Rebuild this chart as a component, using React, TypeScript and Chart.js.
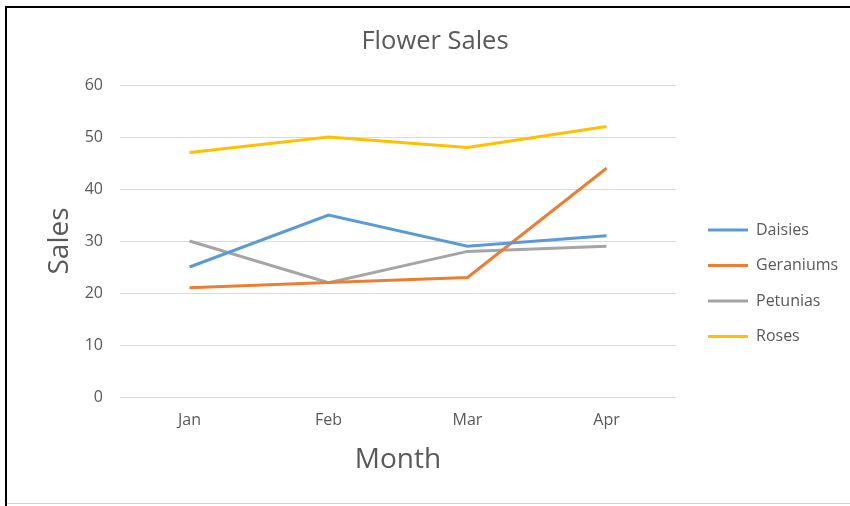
import React, { useEffect, useRef } from "react";
import { Chart, registerables } from "chart.js";

Chart.register(...registerables);

const months = ["Jan", "Feb", "Mar", "Apr"];
const daisies = [25, 35, 29, 31];
const geraniums = [21, 22, 23, 44];
const petunias = [30, 22, 28, 29];
const roses = [47, 50, 48, 52];

const seriesNames = ["Daisies", "Geraniums", "Petunias", "Roses"];
const seriesColors = ["#5B9BD5", "#ED7D31", "#A5A5A5", "#FFC000"];

const FONT = "'Open Sans', Lato, sans-serif";
const TEXT = "#595959";
const LEGEND_PAD = 19.5;

const legendPlacePlugin = {
  id: "legendPlacePlugin",
  beforeLayout(chart: any) {
    const lg = chart.legend;
    if (lg && !lg._patchedFit) {
      const orig = lg.fit.bind(lg);
      lg.fit = function () {
        orig();
        this.width = 174;
      };
      lg._patchedFit = true;
    }
  },
  afterLayout(chart: any) {
    const lg = chart.legend;
    if (lg) {
      const left = 708 - LEGEND_PAD;
      const w = lg.right - lg.left;
      lg.left = left;
      lg.right = left + w;
      const top = 222 - LEGEND_PAD;
      lg.top = top;
      lg.bottom = top + 200;
    }
    const tb = chart.titleBlock;
    if (tb) {
      tb.left += 10;
      tb.right += 10;
    }
  },
};

export default function App() {
  const ref = useRef<HTMLCanvasElement | null>(null);

  useEffect(() => {
    if (!ref.current) return;
    const values = [daisies, geraniums, petunias, roses];
    const chart = new Chart(ref.current, {
      type: "line",
      data: {
        labels: months,
        datasets: seriesNames.map((name, i) => ({
          label: name,
          data: values[i],
          borderColor: seriesColors[i],
          backgroundColor: seriesColors[i],
          borderWidth: 3,
          pointRadius: 0,
          tension: 0,
          fill: false,
        })),
      },
      options: {
        animation: false,
        responsive: false,
        maintainAspectRatio: false,
        layout: { padding: { left: 0, right: 0, top: 0, bottom: 0 } },
        plugins: {
          title: {
            display: true,
            text: "Flower Sales",
            color: TEXT,
            font: { family: FONT, size: 25.5, weight: "normal" },
            padding: { top: 26.7, bottom: 27.7 },
          },
          legend: {
            display: true,
            position: "right",
            align: "start",
            labels: {
              color: TEXT,
              font: { family: FONT, size: 16 },
              boxWidth: 40,
              boxHeight: 3,
              padding: LEGEND_PAD,
              generateLabels: (c: any) =>
                (Chart.defaults.plugins.legend.labels as any)
                  .generateLabels(c)
                  .map((l: any) => ({ ...l, lineWidth: 0, fillStyle: l.strokeStyle })),
            },
          },
          tooltip: { enabled: false },
        },
        scales: {
          x: {
            offset: true,
            grid: { display: false, drawTicks: false },
            border: { display: false },
            ticks: { color: TEXT, font: { family: FONT, size: 16 }, padding: 14 },
            title: {
              display: true,
              text: "Month",
              color: TEXT,
              font: { family: FONT, size: 28 },
              padding: { top: 0, bottom: 29 },
            },
            afterFit: (s: any) => {
              s.height = 109;
            },
          },
          y: {
            min: 0,
            max: 60,
            ticks: { stepSize: 10, color: TEXT, font: { family: FONT, size: 16 }, padding: 17 },
            grid: { color: "#D9D9D9", lineWidth: 1, drawTicks: false },
            border: { display: false },
            title: {
              display: true,
              text: "Sales",
              color: TEXT,
              font: { family: FONT, size: 28 },
              padding: { top: 43, bottom: 0 },
            },
            afterFit: (s: any) => {
              s.width = 120;
            },
          },
        },
      },
      plugins: [legendPlacePlugin],
    });
    return () => chart.destroy();
  }, []);

  return (
    <div style={{ position: "absolute", left: 0, top: 0, width: 850, height: 506, background: "#fff" }}>
      <canvas ref={ref} width={850} height={506} style={{ position: "absolute", left: 0, top: 0, width: 850, height: 506 }} />
      <div style={{ position: "absolute", left: 5, top: 6, width: 845, height: 2, background: "#000" }} />
      <div style={{ position: "absolute", left: 5, top: 6, width: 2, height: 500, background: "#000" }} />
      <div style={{ position: "absolute", left: 7, top: 503, width: 843, height: 1, background: "#D0D0D0" }} />
    </div>
  );
}
